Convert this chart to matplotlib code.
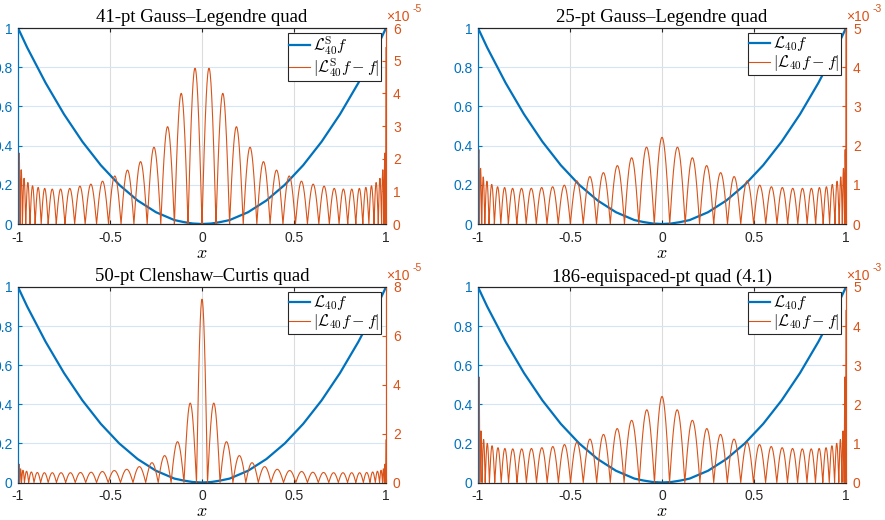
import matplotlib
matplotlib.use('Agg')
import matplotlib.pyplot as plt
import numpy as np

plt.rcParams['font.family'] = ['Liberation Sans', 'DejaVu Sans']
plt.rcParams['mathtext.fontset'] = 'cm'
plt.rcParams['font.size'] = 10

BLUE = '#0072BD'
ORANGE = '#D95319'

# ---------------------------------------------------------------------------
# Data
# ---------------------------------------------------------------------------

titles = ['41-pt Gauss\u2013Legendre quad', '25-pt Gauss\u2013Legendre quad',
          '50-pt Clenshaw\u2013Curtis quad', '186-equispaced-pt quad (4.1)']
blue_labels = [r'$\mathcal{L}^{\mathrm{S}}_{40}f$', r'$\mathcal{L}_{40}f$',
               r'$\mathcal{L}_{40}f$', r'$\mathcal{L}_{40}f$']
err_labels = [r'$|\mathcal{L}^{\mathrm{S}}_{40}f-f|$', r'$|\mathcal{L}_{40}f-f|$',
              r'$|\mathcal{L}_{40}f-f|$', r'$|\mathcal{L}_{40}f-f|$']

# L40 f sampled on x = -1:0.05:1
blue_vals = [1.00, 0.90, 0.81, 0.72, 0.64, 0.56, 0.49, 0.42, 0.36, 0.30, 0.25,
             0.20, 0.16, 0.12, 0.09, 0.06, 0.04, 0.02, 0.01, 0.0025, 0.0,
             0.0025, 0.01, 0.02, 0.04, 0.06, 0.09, 0.12, 0.16, 0.20, 0.25,
             0.30, 0.36, 0.42, 0.49, 0.56, 0.64, 0.72, 0.81, 0.90, 1.00]

# error curves: positive zeros, lobe peak heights (center -> edge), value at x=1
gl41_zeros = [0.076, 0.150, 0.224, 0.298, 0.370, 0.440, 0.508, 0.573, 0.635, 0.692,
              0.745, 0.792, 0.836, 0.874, 0.907, 0.935, 0.958, 0.976, 0.989, 0.998]
gl41_peaks = [4.77, 4.0, 2.98, 2.35, 1.91, 1.65, 1.47, 1.31, 1.22, 1.16,
              1.09, 1.07, 1.07, 1.09, 1.12, 1.17, 1.27, 1.40, 1.66, 2.17]
gl41_end = 5.4

gl25_zeros = [0.042, 0.126, 0.204, 0.281, 0.356, 0.428, 0.498, 0.564, 0.625, 0.683,
              0.738, 0.789, 0.835, 0.876, 0.911, 0.940, 0.963, 0.980, 0.992, 0.999]
gl25_peaks = [2.21, 1.96, 1.69, 1.49, 1.31, 1.21, 1.10, 0.99, 0.95, 0.93,
              0.91, 0.91, 0.91, 0.93, 0.95, 1.01, 1.09, 1.20, 1.42, 1.90]
gl25_end = 5.3

cc50_zeros = [0.030, 0.098, 0.168, 0.238, 0.306, 0.375, 0.443, 0.510, 0.573, 0.632,
              0.689, 0.741, 0.791, 0.836, 0.877, 0.913, 0.942, 0.965, 0.981, 0.991, 0.998]
cc50_peaks = [7.5, 3.25, 1.67, 1.10, 0.81, 0.65, 0.54, 0.49, 0.45, 0.42,
              0.41, 0.40, 0.40, 0.40, 0.40, 0.41, 0.43, 0.46, 0.50, 0.56, 0.75]
cc50_end = 1.74

eq186_zeros = [0.041, 0.124, 0.206, 0.281, 0.355, 0.428, 0.497, 0.563, 0.624, 0.682,
               0.737, 0.788, 0.834, 0.874, 0.909, 0.938, 0.961, 0.978, 0.990, 0.998]
eq186_peaks = [2.20, 1.86, 1.59, 1.38, 1.23, 1.11, 1.03, 0.97, 0.92, 0.89,
               0.87, 0.86, 0.86, 0.87, 0.89, 0.94, 1.00, 1.10, 1.32, 2.70]
eq186_end = 4.4

panels = [
    (gl41_zeros, gl41_peaks, gl41_end, True, 6, [0, 1, 2, 3, 4, 5, 6], '-5'),
    (gl25_zeros, gl25_peaks, gl25_end, False, 5, [0, 1, 2, 3, 4, 5], '-3'),
    (cc50_zeros, cc50_peaks, cc50_end, False, 8, [0, 2, 4, 6, 8], '-5'),
    (eq186_zeros, eq186_peaks, eq186_end, False, 5, [0, 1, 2, 3, 4, 5], '-3'),
]


def lobe_curve(zeros, peaks, end_val, center_zero, n=40):
    """Right half built from arches between zeros, then mirrored."""
    xs, ys = [], []
    t = np.linspace(0, 1, n)
    if center_zero:
        edges = [0.0] + list(zeros)
        for i, h in enumerate(peaks):
            xs.append(edges[i] + (edges[i + 1] - edges[i]) * t)
            ys.append(h * np.sin(np.pi * t))
    else:
        xs.append(zeros[0] * t)
        ys.append(peaks[0] * np.cos(np.pi / 2 * t))
        for i in range(len(zeros) - 1):
            xs.append(zeros[i] + (zeros[i + 1] - zeros[i]) * t)
            ys.append(peaks[i + 1] * np.sin(np.pi * t))
    xs.append(zeros[-1] + (1 - zeros[-1]) * t)
    ys.append(end_val * np.sin(np.pi / 2 * t))
    x = np.concatenate(xs)
    y = np.concatenate(ys)
    return np.concatenate([-x[::-1], x]), np.concatenate([y[::-1], y])


fig = plt.figure(figsize=(8.85, 5.2), dpi=100)
W, H = 885, 520
boxes = [(18, 28, 386, 224), (478, 28, 846, 224),
         (18, 287, 386, 482.5), (478, 287, 846, 482.5)]

x_blue = np.linspace(-1, 1, len(blue_vals))

for k, (zs, pk, ev, cz, ymax, rticks, expo) in enumerate(panels):
    x0, y0, x1, y1 = boxes[k]
    ax = fig.add_axes([x0 / W, 1 - y1 / H, (x1 - x0) / W, (y1 - y0) / H])
    ax2 = ax.twinx()

    lb, = ax.plot(x_blue, blue_vals, color=BLUE, lw=1.6)
    xe, ye = lobe_curve(zs, pk, ev, cz)
    le, = ax2.plot(xe, ye, color=ORANGE, lw=0.8)

    ax.set_xlim(-1, 1)
    ax.set_ylim(0, 1)
    ax2.set_ylim(0, ymax)
    ax.set_xticks([-1, -0.5, 0, 0.5, 1])
    ax.set_xticklabels(['-1', '-0.5', '0', '0.5', '1'])
    ax.set_yticks([0, 0.2, 0.4, 0.6, 0.8, 1])
    ax.set_yticklabels(['0', '0.2', '0.4', '0.6', '0.8', '1'])
    ax2.set_yticks(rticks)
    ax2.set_yticklabels([str(v) for v in rticks])

    ax.grid(True, axis='x', color='#dcdcdc', lw=0.8)
    ax.grid(True, axis='y', color='#d5e5f3', lw=0.8)
    ax.set_axisbelow(True)

    ax.tick_params(axis='x', direction='in', colors='#262626', length=3, pad=5,
                   top=True, labelsize=10)
    ax.tick_params(axis='y', direction='in', colors=BLUE, length=3, pad=4, labelsize=10)
    ax2.tick_params(axis='y', direction='in', colors=ORANGE, length=3, pad=5, labelsize=10)
    for a in (ax, ax2):
        a.spines['top'].set_color('#262626')
        a.spines['bottom'].set_color('#262626')
        a.spines['left'].set_color(BLUE)
        a.spines['right'].set_color(ORANGE)

    ax.set_title(titles[k], family='Liberation Serif', fontsize=13.5, pad=4)
    ax.set_xlabel('$x$', fontsize=13, labelpad=0)

    # exponent label at top of the right axis
    ax2.annotate('\u00d710', xy=(1.0, 1.0), xycoords='axes fraction',
                 xytext=(0, 3), textcoords='offset points',
                 color=ORANGE, fontsize=10, ha='left', va='bottom')
    ax2.annotate(expo, xy=(1.0, 1.0), xycoords='axes fraction',
                 xytext=(19, 10), textcoords='offset points',
                 color=ORANGE, fontsize=7.5, ha='left', va='bottom')

    leg = ax2.legend([lb, le], [blue_labels[k], err_labels[k]], loc='upper right',
                     fontsize=11.5, fancybox=False, framealpha=1, edgecolor='#262626',
                     handlelength=1.3, handletextpad=0.2, borderpad=0.1,
                     labelspacing=0.0, borderaxespad=0.3)
    leg.get_frame().set_linewidth(0.8)

fig.savefig('out.png', dpi=100)
